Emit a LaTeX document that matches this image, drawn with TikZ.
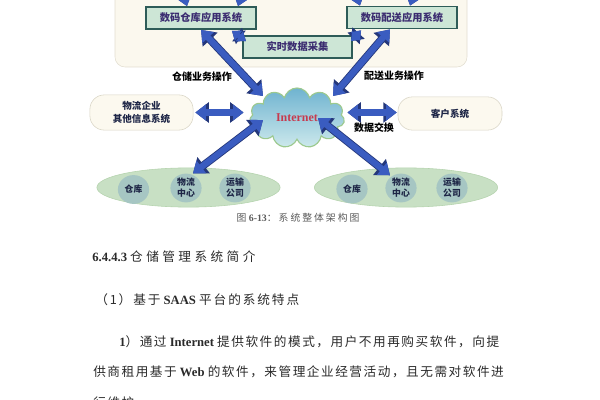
\documentclass[tikz,border=0pt]{standalone}
\usepackage{fontspec}
\setmainfont{Liberation Serif}
\newfontfamily\cjk{Noto Sans CJK SC}
\newfontfamily\cjkbody{Noto Sans CJK SC}[LetterSpace=12]
\newfontfamily\cjkitem{Noto Sans CJK SC}[LetterSpace=15]
\newfontfamily\cjkhead{Noto Sans CJK SC}[LetterSpace=27]
\newfontfamily\cjkcap{Noto Sans CJK SC}[LetterSpace=20]
\usetikzlibrary{arrows.meta, shapes.geometric, shapes.symbols, positioning, calc}

\definecolor{platformfill}{HTML}{FBF8EE}
\definecolor{platformedge}{HTML}{E2DED0}
\definecolor{boxfill}{HTML}{CDE6D6}
\definecolor{boxedge}{HTML}{2E5C58}
\definecolor{boxtext}{HTML}{3B2C70}
\definecolor{arrowblue}{HTML}{3A5CC0}
\definecolor{arrowdark}{HTML}{24377A}
\definecolor{cloudtop}{HTML}{6FB3D0}
\definecolor{cloudbot}{HTML}{CDE9EC}
\definecolor{cloudedge}{HTML}{9CC98E}
\definecolor{netred}{HTML}{C73A4E}
\definecolor{sidefill}{HTML}{FCF9EF}
\definecolor{sideedge}{HTML}{D9D5C6}
\definecolor{labeltext}{HTML}{1E2647}
\definecolor{zonefill}{HTML}{C8E0C4}
\definecolor{zoneedge}{HTML}{B5D3AE}
\definecolor{sitefill}{HTML}{A6C6C3}
\definecolor{bodytext}{HTML}{2A2A2A}
\definecolor{captext}{HTML}{5A5A5A}

\tikzset{
  fattip/.tip={Triangle[width=0pt 2.5, length=0pt 1.7]},
  fatarrow/.style={draw=arrowblue, line width=#1, fattip-fattip,
    preaction={draw=arrowdark, line width=#1+1.2pt, fattip-fattip}},
  fatarrow/.default=4.4pt,
  sysbox/.style={draw=boxedge, line width=1.3pt, fill=boxfill, text=boxtext,
    inner sep=0pt, font=\cjk\bfseries\fontsize{7.3}{8}\selectfont},
  sidebox/.style={draw=sideedge, fill=sidefill, rounded corners=0.36cm, text=labeltext,
    align=center, inner sep=0pt, font=\cjk\bfseries\fontsize{6.8}{9.6}\selectfont},
  zone/.style={ellipse, draw=zoneedge, fill=zonefill, inner sep=0pt},
  site/.style={ellipse, fill=sitefill, text=labeltext, align=center, inner sep=0pt,
    minimum width=0.78cm, minimum height=0.72cm, font=\cjk\bfseries\fontsize{6.3}{7.8}\selectfont},
  oplabel/.style={text=black, inner sep=0pt, font=\cjk\bfseries\fontsize{7.1}{8}\selectfont},
  textline/.style={anchor=west, inner sep=0pt, text=bodytext},
}

\begin{document}
\begin{tikzpicture}[x=0.025cm, y=-0.025cm]
  \useasboundingbox (0,0) rectangle (600,400);

  % platform frame (cut at the top)
  \draw[draw=platformedge, fill=platformfill, rounded corners=0.25cm] (115,-12) rectangle (467,67);

  % application systems
  \node[sysbox, minimum width=2.75cm, minimum height=0.55cm] (wms) at (201,18) {数码仓库应用系统};
  \node[sysbox, minimum width=2.75cm, minimum height=0.55cm] (dms) at (402,17.5) {数码配送应用系统};
  \node[sysbox, minimum width=2.73cm, minimum height=0.55cm] (rtd) at (297.5,47) {实时数据采集};

  % the cloud
  \node[cloud, cloud puffs=11, aspect=1.6, draw=cloudedge, line width=0.8pt,
        top color=cloudtop, bottom color=cloudbot, minimum width=2.375cm, minimum height=1.5cm,
        text=netred, font=\bfseries\fontsize{8.5}{9}\selectfont] (inet) at (297,118) {Internet};

  % side systems
  \node[sidebox, minimum width=2.58cm, minimum height=0.88cm] (other) at (141.5,112.5) {物流企业\\其他信息系统};
  \node[sidebox, minimum width=2.6cm, minimum height=0.83cm] (cust) at (450,113.5) {客户系统};

  % logistics sites
  \node[zone, minimum width=4.58cm, minimum height=0.98cm] (zoneL) at (188.5,187.5) {};
  \node[site] (storeL) at (133.5,189.5) {仓库};
  \node[site] (hubL) at (186,188) {物流\\中心};
  \node[site] (carrL) at (235,188) {运输\\公司};

  \node[zone, minimum width=4.58cm, minimum height=0.98cm] (zoneR) at (406,187.5) {};
  \node[site] (storeR) at (352,189) {仓库};
  \node[site] (hubR) at (401,188) {物流\\中心};
  \node[site] (carrR) at (452,188) {运输\\公司};

  % arrows leaving the picture at the top
  \coordinate (upA) at (176,-30);
  \coordinate (upB) at (250,-30);
  \coordinate (upC) at (348,-30);
  \coordinate (upD) at (422,-30);
  \draw[fatarrow] (upA) -- ($(wms.north)+(-14,0)$);
  \draw[fatarrow] (upB) -- ($(wms.north)+(37,0)$);
  \draw[fatarrow] (upC) -- ($(dms.north)+(-42,0)$);
  \draw[fatarrow] (upD) -- ($(dms.north)+(8,0)$);

  % real-time data links
  \draw[fatarrow=3.4pt] ($(wms.south east)+(-25,1)$) -- ($(rtd.north west)+(4,6)$);
  \draw[fatarrow=3.4pt] ($(dms.south west)+(15,1)$) -- ($(rtd.north east)+(-2,6)$);

  % business operations
  \draw[fatarrow] (wms.south) -- ($(inet.center)+(-34,-22)$);
  \draw[fatarrow] ($(dms.south)+(-12,0)$) -- ($(inet.center)+(36,-22)$);

  % data exchange
  \draw[fatarrow] ($(other.east)+(2,0)$) -- ($(inet.west |- other.east)+(-6,0)$);
  \draw[fatarrow] ($(inet.east |- cust.west)+(3,-1)$) -- ($(cust.west)+(-1,-1)$);

  % down to the sites
  \draw[fatarrow] ($(inet.center)+(-34,2)$) -- ($(hubL.north)+(7,0)$);
  \draw[fatarrow] ($(inet.center)+(21,0)$) -- ($(hubR.north)+(-11,2)$);

  % labels
  \node[oplabel] (opL) at (202,77) {仓储业务操作};
  \node[oplabel] (opR) at (394,76) {配送业务操作};
  \node[oplabel] (xchg) at (374,128) {数据交换};

  % caption and page text
  \node[inner sep=0pt, text=captext, font=\fontsize{7}{8}\selectfont] (cap) at (298,218)
    {{\cjkcap 图} {\bfseries 6-13}{\cjkcap ：系统整体架构图}};
  \node[textline, font=\fontsize{9}{10}\selectfont] (sec) at (92,257)
    {{\bfseries 6.4.4.3} {\cjkhead 仓储管理系统简介}};
  \node[textline, font=\fontsize{9}{10}\selectfont] (item) at (95,300)
    {{\cjkitem （1）基于} {\bfseries SAAS} {\cjkitem 平台的系统特点}};
  \node[textline, font=\fontsize{9}{10}\selectfont] (par1) at (119,342)
    {{\bfseries 1}{\cjkbody ）通过} {\bfseries Internet} {\cjkbody 提供软件的模式，用户不用再购买软件，向提}};
  \node[textline, font=\fontsize{9}{10}\selectfont] (par2) at (93,372)
    {{\cjkbody 供商租用基于} {\bfseries Web} {\cjkbody 的软件，来管理企业经营活动，且无需对软件进}};
  \node[textline, font=\fontsize{9}{10}\selectfont] (par3) at (93,403)
    {{\cjkbody 行维护。}};
\end{tikzpicture}
\end{document}
